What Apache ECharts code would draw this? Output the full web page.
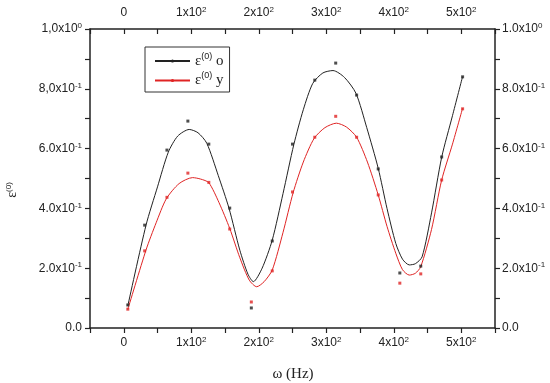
<!DOCTYPE html>
<html><head><meta charset="utf-8">
<script src="https://cdn.jsdelivr.net/npm/echarts@6/dist/echarts.min.js"></script>
<style>html,body{margin:0;padding:0;background:#fff}#c{width:550px;height:383px}</style>
</head><body><div id="c"></div>
<script>
// measured points
const pointX = [6,31,64,95,126,157,189,220,250,283,314,345,377,409,440,471,502];
const pointsO = [0.077,0.344,0.595,0.692,0.615,0.401,0.067,0.291,0.615,0.829,0.886,0.779,0.532,0.184,0.207,0.572,0.840];
const pointsY = [0.063,0.258,0.437,0.518,0.487,0.331,0.087,0.191,0.455,0.638,0.708,0.638,0.445,0.150,0.181,0.495,0.733];
// fitted curves
const fitXO = [6,33,50,66,80,97,110,123,140,156,172,184,192,205,220,236,252,266,280,295,310,327,344,360,377,390,403,413,423,432,442,456,471,487,502];
const fitO = [0.074,0.344,0.472,0.588,0.642,0.664,0.653,0.618,0.510,0.400,0.260,0.180,0.155,0.200,0.294,0.450,0.614,0.730,0.818,0.853,0.861,0.838,0.785,0.670,0.534,0.400,0.283,0.230,0.211,0.215,0.238,0.385,0.571,0.710,0.841];
const fitXY = [6,33,48,63,82,102,114,126,141,157,172,186,197,208,220,236,251,266,282,298,315,330,345,361,377,390,403,413,423,432,440,456,471,487,502];
const fitY = [0.062,0.261,0.352,0.432,0.483,0.503,0.498,0.486,0.420,0.333,0.235,0.160,0.138,0.155,0.194,0.320,0.453,0.555,0.634,0.670,0.685,0.672,0.638,0.555,0.445,0.340,0.250,0.195,0.177,0.183,0.205,0.330,0.495,0.615,0.735];
// tick labels
const xTicks = [0,100,200,300,400,500];
const xTickLabels = [['0',''],['1x10','2'],['2x10','2'],['3x10','2'],['4x10','2'],['5x10','2']];
const yTicks = [0,0.2,0.4,0.6,0.8,1.0];
const yLabelsLeft = [['0.0',''],['2.0x10','-1'],['4.0x10','-1'],['6.0x10','-1'],['8,0x10','-1'],['1,0x10','0']];
const yLabelsRight = [['0.0',''],['2.0x10','-1'],['4.0x10','-1'],['6.0x10','-1'],['8.0x10','-1'],['1.0x10','0']];
const seriesNames = ['o','y'];
const xTitle = 'ω (Hz)';

const zip = (xs, ys) => xs.map((x, i) => [x, ys[i]]);
const rich = {
  b: {fontSize: 12, fontFamily: 'Liberation Sans, Arial', color: '#222', lineHeight: 14},
  s: {fontSize: 8, fontFamily: 'Liberation Sans, Arial', color: '#222', lineHeight: 8, verticalAlign: 'top'}
};
function fmt(pair){ return pair[1] ? '{b|' + pair[0] + '}{s|' + pair[1] + '}' : '{b|' + pair[0] + '}'; }
function xFmt(v){ const i = xTicks.indexOf(Math.round(v)); return i < 0 ? '' : fmt(xTickLabels[i]); }
function yFmtL(v){ const i = yTicks.findIndex(t => Math.abs(t - v) < 1e-6); return i < 0 ? '' : fmt(yLabelsLeft[i]); }
function yFmtR(v){ const i = yTicks.findIndex(t => Math.abs(t - v) < 1e-6); return i < 0 ? '' : fmt(yLabelsRight[i]); }

function xAxis(pos, inside, margin){
  return {type: 'value', position: pos, min: -50, max: 550, interval: 50,
    axisLine: {show: true, onZero: false, lineStyle: {color: '#222', width: 1.5}},
    axisTick: {inside: inside, length: 5, lineStyle: {color: '#222', width: 1.2}},
    axisLabel: {formatter: xFmt, rich: rich, margin: margin, showMinLabel: true, showMaxLabel: true},
    splitLine: {show: false}};
}
function yAxis(pos, f, margin){
  return {type: 'value', position: pos, min: 0, max: 1, interval: 0.1,
    axisLine: {show: true, onZero: false, lineStyle: {color: '#222', width: 1.5}},
    axisTick: {show: true, inside: false, length: 5, lineStyle: {color: '#222', width: 1.2}},
    axisLabel: {formatter: f, rich: rich, margin: margin},
    splitLine: {show: false}};
}
const legendRich = {
  e: {fontSize: 15, fontFamily: 'Liberation Serif, Times New Roman', color: '#222', lineHeight: 18},
  s: {fontSize: 9, fontFamily: 'Liberation Sans, Arial', color: '#222', lineHeight: 9, verticalAlign: 'top'}
};
const colors = ['#222222', '#e02424'];
const names = seriesNames.map(n => 'ε(0) ' + n);

const option = {
  animation: false,
  backgroundColor: '#fff',
  grid: {left: 90, right: 55, top: 29, bottom: 55},
  xAxis: [xAxis('bottom', false, 8), xAxis('top', true, 9)],
  yAxis: [yAxis('left', yFmtL, 8), yAxis('right', yFmtR, 7)],
  legend: {
    left: 145, top: 47, orient: 'vertical', data: names,
    borderColor: '#333', borderWidth: 1, backgroundColor: '#fff', borderRadius: 0,
    padding: [5, 6, 4, 9], itemGap: 3, itemWidth: 35, itemHeight: 4,
    formatter: function(name){ return '{e|ε}{s|(0)}{e| ' + name.slice(5) + '}'; },
    textStyle: {rich: legendRich}
  },
  graphic: [{
    type: 'text', x: 12, y: 190, rotation: Math.PI / 2,
    style: {text: '{e|ε}{s|(0)}', rich: {
      e: {fontSize: 14, fontFamily: 'Liberation Serif, Times New Roman', fill: '#222', lineHeight: 14},
      s: {fontSize: 8, fontFamily: 'Liberation Sans, Arial', fill: '#222', lineHeight: 8, verticalAlign: 'top'}
    }, align: 'center', verticalAlign: 'middle'}
  }, {
    type: 'text', x: 293, y: 374,
    style: {text: xTitle, font: '15px "Liberation Serif", "Times New Roman", serif', fill: '#222',
      align: 'center', verticalAlign: 'middle'}
  }],
  series: [
    {name: names[0], type: 'line', data: zip(fitXO, fitO), smooth: 0.25, showSymbol: false, symbol: 'circle',
      lineStyle: {color: colors[0], width: 1}, itemStyle: {color: colors[0]}, z: 2},
    {name: names[1], type: 'line', data: zip(fitXY, fitY), smooth: 0.25, showSymbol: false, symbol: 'circle',
      lineStyle: {color: colors[1], width: 1}, itemStyle: {color: colors[1]}, z: 2},
    {name: names[0], type: 'scatter', data: zip(pointX, pointsO), symbol: 'rect', symbolSize: 3, itemStyle: {color: colors[0]}, z: 3},
    {name: names[1], type: 'scatter', data: zip(pointX, pointsY), symbol: 'rect', symbolSize: 3, itemStyle: {color: colors[1]}, z: 3}
  ]
};
const chart = echarts.init(document.getElementById('c'), null, {renderer: 'canvas'});
chart.setOption(option);
</script></body></html>
